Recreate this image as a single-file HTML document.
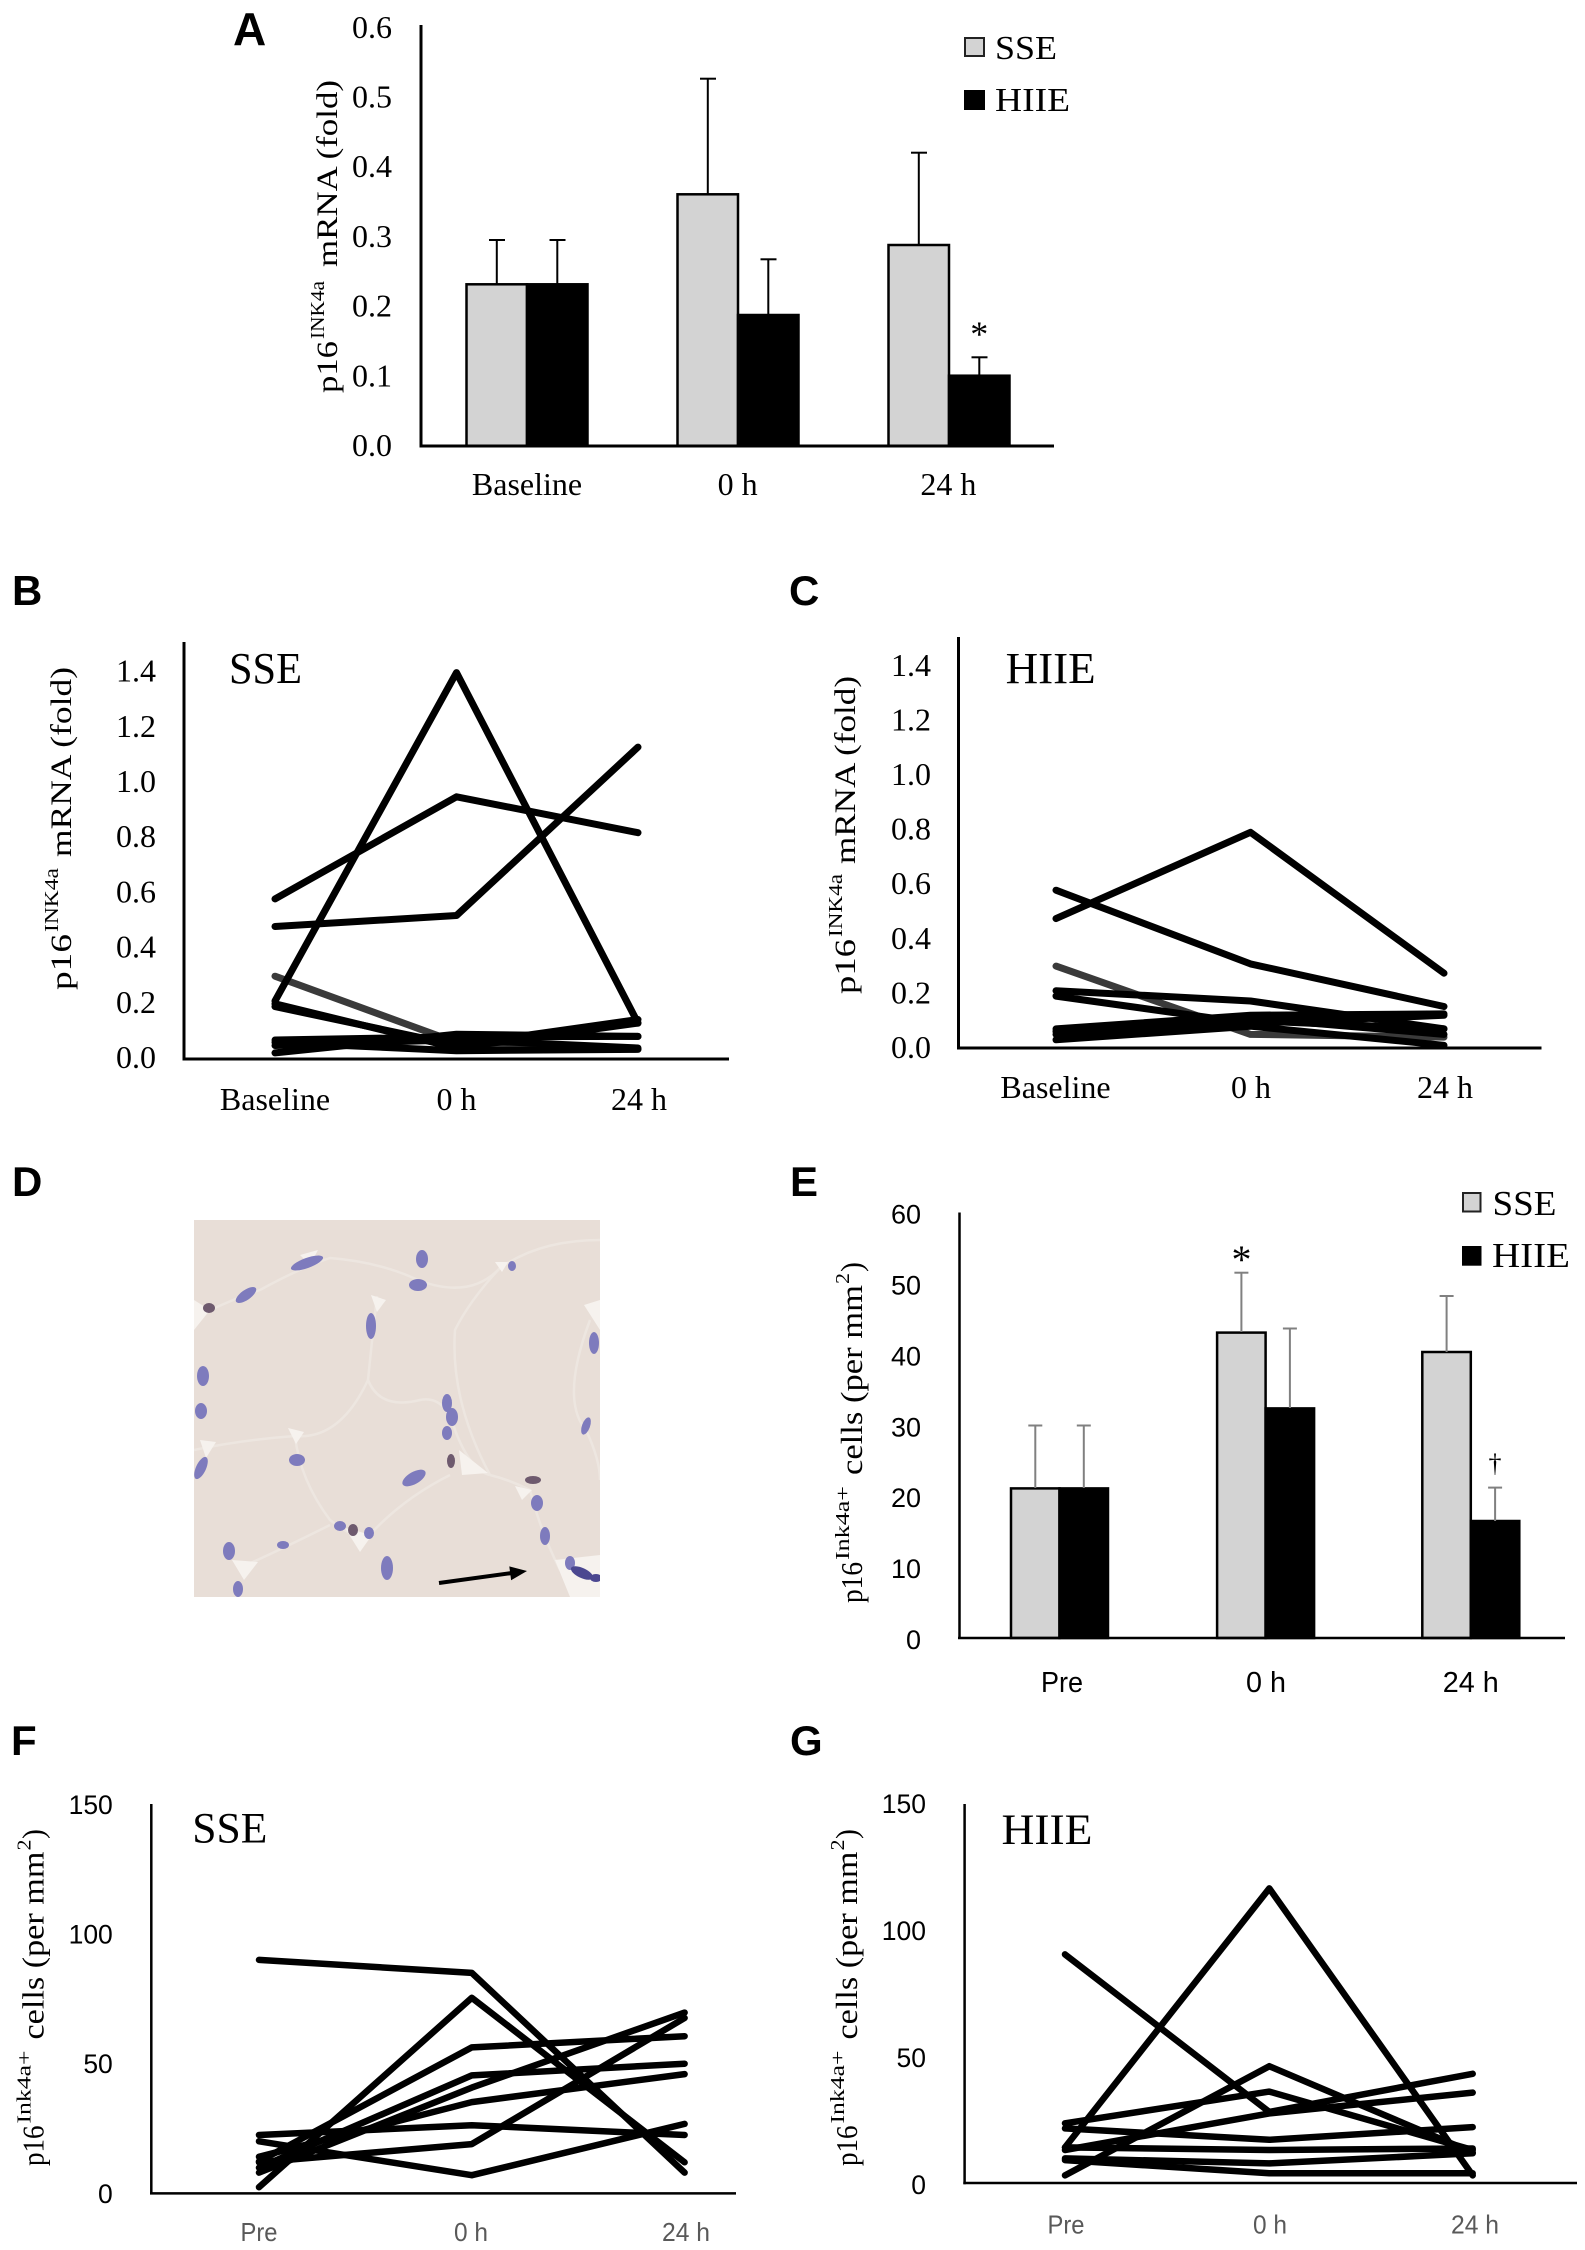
<!DOCTYPE html>
<html><head><meta charset="utf-8"><style>
html,body{margin:0;padding:0;background:#fff;}
svg{display:block;}
.s{font-family:"Liberation Serif","Times New Roman",serif;}
.n{font-family:"Liberation Sans",Arial,sans-serif;}
.lb{font-family:"Liberation Sans",Arial,sans-serif;font-weight:bold;font-size:42px;}
</style></head><body>
<svg width="1585" height="2250" viewBox="0 0 1585 2250" xmlns="http://www.w3.org/2000/svg">
<rect width="1585" height="2250" fill="#fff"/>

<!-- Panel letters -->
<text class="lb" x="233" y="45" style="font-size:46px">A</text>
<text class="lb" x="12" y="605">B</text>
<text class="lb" x="789" y="605">C</text>
<text class="lb" x="12" y="1196">D</text>
<text class="lb" x="790" y="1196">E</text>
<text class="lb" x="11" y="1755">F</text>
<text class="lb" x="790" y="1755">G</text>

<!-- ================= PANEL A ================= -->
<g class="s" font-size="32" text-anchor="end">
<text x="392" y="456">0.0</text>
<text x="392" y="386.3">0.1</text>
<text x="392" y="316.6">0.2</text>
<text x="392" y="246.9">0.3</text>
<text x="392" y="177.2">0.4</text>
<text x="392" y="107.5">0.5</text>
<text x="392" y="37.8">0.6</text>
</g>
<g stroke="#000" stroke-width="2.5">
<rect x="466.5" y="284.3" width="60.5" height="161.7" fill="#d3d3d3"/>
<rect x="527" y="284.3" width="60.5" height="161.7" fill="#000"/>
<rect x="677.5" y="194.3" width="60.5" height="251.7" fill="#d3d3d3"/>
<rect x="738" y="315" width="60.5" height="131" fill="#000"/>
<rect x="888.5" y="245" width="60.5" height="201" fill="#d3d3d3"/>
<rect x="949" y="375.7" width="60.5" height="70.3" fill="#000"/>
</g>
<g stroke="#000" stroke-width="2">
<line x1="496.8" y1="284" x2="496.8" y2="240"/><line x1="489" y1="240" x2="505" y2="240"/>
<line x1="557.3" y1="284" x2="557.3" y2="240"/><line x1="549.5" y1="240" x2="565.5" y2="240"/>
<line x1="707.8" y1="194" x2="707.8" y2="78.7"/><line x1="700" y1="78.7" x2="716" y2="78.7"/>
<line x1="768.3" y1="315" x2="768.3" y2="259.3"/><line x1="760.5" y1="259.3" x2="776.5" y2="259.3"/>
<line x1="918.8" y1="245" x2="918.8" y2="152.7"/><line x1="911" y1="152.7" x2="927" y2="152.7"/>
<line x1="979.3" y1="375.7" x2="979.3" y2="357.3"/><line x1="971.5" y1="357.3" x2="987.5" y2="357.3"/>
</g>
<text class="s" x="979.3" y="346" font-size="36" text-anchor="middle">*</text>
<line x1="421" y1="25" x2="421" y2="447.5" stroke="#000" stroke-width="3"/>
<line x1="419.5" y1="446" x2="1054" y2="446" stroke="#000" stroke-width="3"/>
<rect x="965" y="38" width="19" height="18" fill="#d3d3d3" stroke="#222" stroke-width="2"/>
<text class="s" x="995" y="59" font-size="34" textLength="62" lengthAdjust="spacingAndGlyphs">SSE</text>
<rect x="964" y="90" width="21" height="20" fill="#000"/>
<text class="s" x="995" y="111" font-size="34" textLength="75" lengthAdjust="spacingAndGlyphs">HIIE</text>
<g class="s" font-size="32" text-anchor="middle">
<text x="527" y="495">Baseline</text>
<text x="737.6" y="495">0 h</text>
<text x="948.4" y="495">24 h</text>
</g>
<g class="s" transform="translate(337,393) rotate(-90)">
<text x="0" y="0" font-size="30" textLength="52" lengthAdjust="spacingAndGlyphs">p16</text>
<text x="54" y="-13" font-size="20" textLength="58" lengthAdjust="spacingAndGlyphs">INK4a</text>
<text x="126" y="0" font-size="30" textLength="187" lengthAdjust="spacingAndGlyphs">mRNA (fold)</text>
</g>

<!-- ================= PANEL B ================= -->
<g class="s" font-size="32" text-anchor="end">
<text x="156" y="1068">0.0</text>
<text x="156" y="1012.8">0.2</text>
<text x="156" y="957.6">0.4</text>
<text x="156" y="902.4">0.6</text>
<text x="156" y="847.2">0.8</text>
<text x="156" y="792">1.0</text>
<text x="156" y="736.8">1.2</text>
<text x="156" y="681.6">1.4</text>
</g>
<text class="s" x="229" y="683" font-size="44" textLength="73" lengthAdjust="spacingAndGlyphs">SSE</text>
<g fill="none" stroke-width="7" stroke-linecap="round" stroke-linejoin="round">
<polyline stroke="#3a3a3a" points="275,976.2 456.5,1042.4 638,1049.3"/>
<g stroke="#000">
<polyline points="275,898.9 456.5,796.8 638,832.7"/>
<polyline points="275,926.5 456.5,915.5 638,747.1"/>
<polyline points="275,1001 456.5,672.6 638,1023.1"/>
<polyline points="275,1006.6 456.5,1045.2 638,1019.5"/>
<polyline points="275,1003.8 456.5,1048 638,1023.1"/>
<polyline points="275,1040 456.5,1036.9 638,1036.4"/>
<polyline points="275,1045.5 456.5,1039.7 638,1048"/>
<polyline points="275,1052.9 456.5,1034.2 638,1036.4"/>
<polyline points="275,1042.4 456.5,1050.7 638,1049.3"/>
</g>
</g>
<line x1="184" y1="642" x2="184" y2="1060.5" stroke="#000" stroke-width="3"/>
<line x1="182.5" y1="1059" x2="729" y2="1059" stroke="#000" stroke-width="3"/>
<g class="s" font-size="32" text-anchor="middle">
<text x="275" y="1110">Baseline</text>
<text x="456.5" y="1110">0 h</text>
<text x="639" y="1110">24 h</text>
</g>
<g class="s" transform="translate(71,990) rotate(-90)">
<text x="0" y="0" font-size="30" textLength="56" lengthAdjust="spacingAndGlyphs">p16</text>
<text x="58" y="-13" font-size="20" textLength="64" lengthAdjust="spacingAndGlyphs">INK4a</text>
<text x="133" y="0" font-size="30" textLength="190" lengthAdjust="spacingAndGlyphs">mRNA (fold)</text>
</g>

<!-- ================= PANEL C ================= -->
<g class="s" font-size="32" text-anchor="end">
<text x="931" y="1058">0.0</text>
<text x="931" y="1003.4">0.2</text>
<text x="931" y="948.8">0.4</text>
<text x="931" y="894.2">0.6</text>
<text x="931" y="839.6">0.8</text>
<text x="931" y="785">1.0</text>
<text x="931" y="730.4">1.2</text>
<text x="931" y="675.8">1.4</text>
</g>
<text class="s" x="1005.6" y="683" font-size="44" textLength="90" lengthAdjust="spacingAndGlyphs">HIIE</text>
<g fill="none" stroke-width="7" stroke-linecap="round" stroke-linejoin="round">
<polyline stroke="#3a3a3a" points="1056,966.1 1250.5,1034.4 1444,1037.1"/>
<g stroke="#000">
<polyline points="1056,918.6 1250.5,832.3 1444,973.2"/>
<polyline points="1056,890.2 1250.5,963.9 1444,1006.5"/>
<polyline points="1056,990.7 1250.5,1001 1444,1028.9"/>
<polyline points="1056,996.1 1250.5,1023.4 1444,1015.2"/>
<polyline points="1056,1028.9 1250.5,1015.2 1444,1013.9"/>
<polyline points="1056,1034.4 1250.5,1020.7 1444,1028.9"/>
<polyline points="1056,1039.8 1250.5,1026.2 1444,1045.3"/>
<polyline points="1056,1031.6 1250.5,1018 1444,1034.4"/>
</g>
</g>
<line x1="958.5" y1="637" x2="958.5" y2="1049.5" stroke="#000" stroke-width="3"/>
<line x1="957" y1="1048" x2="1541.5" y2="1048" stroke="#000" stroke-width="3"/>
<g class="s" font-size="32" text-anchor="middle">
<text x="1055.5" y="1098">Baseline</text>
<text x="1251" y="1098">0 h</text>
<text x="1445" y="1098">24 h</text>
</g>
<g class="s" transform="translate(855,994) rotate(-90)">
<text x="0" y="0" font-size="30" textLength="55" lengthAdjust="spacingAndGlyphs">p16</text>
<text x="57" y="-13" font-size="20" textLength="63" lengthAdjust="spacingAndGlyphs">INK4a</text>
<text x="130" y="0" font-size="30" textLength="188" lengthAdjust="spacingAndGlyphs">mRNA (fold)</text>
</g>

<!-- ================= PANEL D (micrograph) ================= -->
<defs><clipPath id="ph"><rect x="194" y="1220" width="406" height="377"/></clipPath></defs>
<g clip-path="url(#ph)">
<rect x="194" y="1220" width="406" height="377" fill="#e8ded7"/>
<g fill="none" stroke="#ede6e0" stroke-width="2.5">
<path d="M194,1318 Q230,1300 260,1290 Q300,1268 330,1258 Q380,1262 418,1280 Q470,1300 500,1268 Q540,1240 600,1240"/>
<path d="M377,1296 Q372,1340 368,1380 Q380,1410 420,1400 Q445,1395 455,1430 Q470,1470 490,1475"/>
<path d="M194,1450 Q240,1440 295,1436 Q340,1440 368,1380"/>
<path d="M295,1436 Q300,1480 330,1520 Q350,1535 365,1540 Q400,1500 450,1475"/>
<path d="M490,1475 Q510,1480 530,1490 Q540,1530 560,1570"/>
<path d="M590,1320 Q560,1400 586,1430 Q600,1460 600,1480"/>
<path d="M244,1566 Q280,1550 330,1525"/>
<path d="M490,1475 Q450,1400 455,1330 Q470,1300 500,1268"/>
</g>
<g fill="#f6f2ee">
<polygon points="371,1295 386,1300 377,1312"/>
<polygon points="495,1262 508,1262 502,1272"/>
<polygon points="459,1450 488,1473 462,1475"/>
<polygon points="345,1528 372,1535 360,1552"/>
<polygon points="232,1560 258,1562 244,1580"/>
<polygon points="584,1305 600,1300 600,1330"/>
<polygon points="200,1440 216,1442 206,1458"/>
<polygon points="288,1428 304,1432 296,1444"/>
<polygon points="515,1486 532,1490 522,1500"/>
<polygon points="555,1560 600,1555 600,1597 570,1597"/>
<polygon points="194,1300 210,1310 194,1330"/>
<polygon points="300,1255 318,1250 310,1265"/>
</g>
<g fill="#7e7bbd">
<ellipse cx="307" cy="1263" rx="17" ry="5" transform="rotate(-20 307 1263)"/>
<ellipse cx="422" cy="1259" rx="6" ry="9"/>
<ellipse cx="418" cy="1285" rx="9" ry="6"/>
<ellipse cx="512" cy="1266" rx="4" ry="5"/>
<ellipse cx="246" cy="1295" rx="12" ry="5" transform="rotate(-35 246 1295)"/>
<ellipse cx="371" cy="1326" rx="5" ry="13"/>
<ellipse cx="594" cy="1343" rx="5" ry="11"/>
<ellipse cx="203" cy="1376" rx="6" ry="10"/>
<ellipse cx="201" cy="1411" rx="6" ry="8"/>
<ellipse cx="447" cy="1403" rx="5" ry="9"/>
<ellipse cx="452" cy="1417" rx="6" ry="9"/>
<ellipse cx="447" cy="1433" rx="5" ry="7"/>
<ellipse cx="586" cy="1426" rx="4" ry="9" transform="rotate(20 586 1426)"/>
<ellipse cx="201" cy="1468" rx="5" ry="12" transform="rotate(25 201 1468)"/>
<ellipse cx="297" cy="1460" rx="8" ry="6"/>
<ellipse cx="414" cy="1478" rx="13" ry="6" transform="rotate(-30 414 1478)"/>
<ellipse cx="537" cy="1503" rx="6" ry="8"/>
<ellipse cx="340" cy="1526" rx="6" ry="5"/>
<ellipse cx="369" cy="1533" rx="5" ry="6"/>
<ellipse cx="545" cy="1536" rx="5" ry="9"/>
<ellipse cx="229" cy="1551" rx="6" ry="9"/>
<ellipse cx="387" cy="1568" rx="6" ry="12"/>
<ellipse cx="570" cy="1563" rx="5" ry="7"/>
<ellipse cx="238" cy="1589" rx="5" ry="8"/>
<ellipse cx="283" cy="1545" rx="6" ry="4"/>
</g>
<g fill="#6e5a6e">
<ellipse cx="209" cy="1308" rx="6" ry="5"/>
<ellipse cx="451" cy="1461" rx="4" ry="7"/>
<ellipse cx="533" cy="1480" rx="8" ry="4"/>
<ellipse cx="353" cy="1530" rx="5" ry="6"/>
</g>
<g fill="#4b4790">
<ellipse cx="582" cy="1573" rx="12" ry="5" transform="rotate(25 582 1573)"/>
<ellipse cx="596" cy="1578" rx="6" ry="4"/>
</g>
</g>
<line x1="439" y1="1583" x2="512" y2="1573" stroke="#000" stroke-width="4"/>
<polygon points="527,1571 511.1,1580.2 509.3,1566.4" fill="#000"/>

<!-- ================= PANEL E ================= -->
<g class="n" font-size="27" text-anchor="end">
<text x="921" y="1649">0</text>
<text x="921" y="1578.1">10</text>
<text x="921" y="1507.2">20</text>
<text x="921" y="1436.3">30</text>
<text x="921" y="1365.4">40</text>
<text x="921" y="1294.5">50</text>
<text x="921" y="1223.6">60</text>
</g>
<g stroke="#000" stroke-width="2.5">
<rect x="1011" y="1488.4" width="48.5" height="149.6" fill="#d3d3d3"/>
<rect x="1059.5" y="1488.4" width="48.5" height="149.6" fill="#000"/>
<rect x="1217.1" y="1332.6" width="48.5" height="305.4" fill="#d3d3d3"/>
<rect x="1265.6" y="1408.4" width="48.5" height="229.6" fill="#000"/>
<rect x="1422.3" y="1352" width="48.5" height="286" fill="#d3d3d3"/>
<rect x="1470.8" y="1521" width="48.5" height="117" fill="#000"/>
</g>
<g stroke="#808080" stroke-width="2">
<line x1="1035.3" y1="1488" x2="1035.3" y2="1425.5"/><line x1="1028.3" y1="1425.5" x2="1042.3" y2="1425.5"/>
<line x1="1083.8" y1="1488" x2="1083.8" y2="1425.5"/><line x1="1076.8" y1="1425.5" x2="1090.8" y2="1425.5"/>
<line x1="1241.4" y1="1332" x2="1241.4" y2="1272.7"/><line x1="1234.4" y1="1272.7" x2="1248.4" y2="1272.7"/>
<line x1="1289.9" y1="1408" x2="1289.9" y2="1328.5"/><line x1="1282.9" y1="1328.5" x2="1296.9" y2="1328.5"/>
<line x1="1446.6" y1="1352" x2="1446.6" y2="1296"/><line x1="1439.6" y1="1296" x2="1453.6" y2="1296"/>
<line x1="1495.1" y1="1521" x2="1495.1" y2="1487.6"/><line x1="1488.1" y1="1487.6" x2="1502.1" y2="1487.6"/>
</g>
<text class="s" x="1241.5" y="1273" font-size="40" text-anchor="middle">*</text>
<text class="s" x="1495" y="1472" font-size="26" text-anchor="middle">†</text>
<line x1="959.5" y1="1212.5" x2="959.5" y2="1639" stroke="#000" stroke-width="2.5"/>
<line x1="958" y1="1638" x2="1565" y2="1638" stroke="#000" stroke-width="2.5"/>
<rect x="1463" y="1193" width="17.5" height="18.5" fill="#d3d3d3" stroke="#222" stroke-width="2"/>
<text class="s" x="1492.5" y="1215" font-size="35" textLength="64" lengthAdjust="spacingAndGlyphs">SSE</text>
<rect x="1462" y="1246" width="19.5" height="19.7" fill="#000"/>
<text class="s" x="1492" y="1267" font-size="35" textLength="78" lengthAdjust="spacingAndGlyphs">HIIE</text>
<g class="n" font-size="29" text-anchor="middle">
<text x="1062" y="1692" textLength="42" lengthAdjust="spacingAndGlyphs">Pre</text>
<text x="1266" y="1692" textLength="40" lengthAdjust="spacingAndGlyphs">0 h</text>
<text x="1470.8" y="1692" textLength="56" lengthAdjust="spacingAndGlyphs">24 h</text>
</g>
<g class="s" transform="translate(862,1603) rotate(-90)">
<text x="0" y="0" font-size="31" textLength="41" lengthAdjust="spacingAndGlyphs">p16</text>
<text x="43" y="-13" font-size="20" textLength="74" lengthAdjust="spacingAndGlyphs">Ink4a+</text>
<text x="128" y="0" font-size="31" textLength="190" lengthAdjust="spacingAndGlyphs">cells (per mm</text>
<text x="319" y="-13" font-size="20" textLength="11" lengthAdjust="spacingAndGlyphs">2</text>
<text x="331" y="0" font-size="31" textLength="10" lengthAdjust="spacingAndGlyphs">)</text>
</g>

<!-- ================= PANEL F ================= -->
<g class="n" font-size="26.5" text-anchor="end">
<text x="112.8" y="2202.9">0</text>
<text x="112.8" y="2073.2">50</text>
<text x="112.8" y="1943.5">100</text>
<text x="112.8" y="1813.8">150</text>
</g>
<text class="s" x="192.3" y="1842.5" font-size="43" textLength="75" lengthAdjust="spacingAndGlyphs">SSE</text>
<g fill="none" stroke="#000" stroke-width="6.5" stroke-linecap="round" stroke-linejoin="round">
<polyline points="259,1959.9 471.8,1972.9 684.6,2172.6"/>
<polyline points="259,2187.2 471.8,1997.8 684.6,2162.3"/>
<polyline points="259,2161.5 471.8,2047.4 684.6,2036.2"/>
<polyline points="259,2167.7 471.8,2075.4 684.6,2063.7"/>
<polyline points="259,2172.6 471.8,2087.6 684.6,2012.6"/>
<polyline points="259,2156.8 471.8,2102.1 684.6,2074.1"/>
<polyline points="259,2135 471.8,2125.2 684.6,2135"/>
<polyline points="259,2141.3 471.8,2175.2 684.6,2123.9"/>
<polyline points="259,2162.3 471.8,2144.1 684.6,2018"/>
</g>
<line x1="151.3" y1="1804" x2="151.3" y2="2194.5" stroke="#000" stroke-width="2.5"/>
<line x1="150" y1="2193.4" x2="736" y2="2193.4" stroke="#000" stroke-width="2.5"/>
<g class="n" font-size="26" text-anchor="middle" fill="#595959">
<text x="259" y="2241" textLength="37" lengthAdjust="spacingAndGlyphs">Pre</text>
<text x="471" y="2241" textLength="34" lengthAdjust="spacingAndGlyphs">0 h</text>
<text x="686" y="2241" textLength="48" lengthAdjust="spacingAndGlyphs">24 h</text>
</g>
<g class="s" transform="translate(43.6,2166) rotate(-90)">
<text x="0" y="0" font-size="31" textLength="40.5" lengthAdjust="spacingAndGlyphs">p16</text>
<text x="42.5" y="-13" font-size="20" textLength="73" lengthAdjust="spacingAndGlyphs">Ink4a+</text>
<text x="126.5" y="0" font-size="31" textLength="188" lengthAdjust="spacingAndGlyphs">cells (per mm</text>
<text x="315.5" y="-13" font-size="20" textLength="11" lengthAdjust="spacingAndGlyphs">2</text>
<text x="327" y="0" font-size="31" textLength="10" lengthAdjust="spacingAndGlyphs">)</text>
</g>

<!-- ================= PANEL G ================= -->
<g class="n" font-size="26.5" text-anchor="end">
<text x="926" y="2194">0</text>
<text x="926" y="2067">50</text>
<text x="926" y="1940">100</text>
<text x="926" y="1813">150</text>
</g>
<text class="s" x="1001.5" y="1844" font-size="43" textLength="91" lengthAdjust="spacingAndGlyphs">HIIE</text>
<g fill="none" stroke="#000" stroke-width="6.5" stroke-linecap="round" stroke-linejoin="round">
<polyline points="1065,1954.4 1269.3,2111.9 1472.7,2073.8"/>
<polyline points="1065,2147.4 1269.3,1888.4 1472.7,2175.4"/>
<polyline points="1065,2175.4 1269.3,2066.2 1472.7,2152.5"/>
<polyline points="1065,2123.3 1269.3,2091.6 1472.7,2150"/>
<polyline points="1065,2150 1269.3,2113.4 1472.7,2092.6"/>
<polyline points="1065,2128.4 1269.3,2139.8 1472.7,2127.1"/>
<polyline points="1065,2147.4 1269.3,2150 1472.7,2148.5"/>
<polyline points="1065,2158.4 1269.3,2163.4 1472.7,2153.3"/>
<polyline points="1065,2160.1 1269.3,2173.3 1472.7,2173.3"/>
</g>
<line x1="964.6" y1="1804" x2="964.6" y2="2184.2" stroke="#000" stroke-width="2.5"/>
<line x1="963.3" y1="2183" x2="1577" y2="2183" stroke="#000" stroke-width="2.5"/>
<g class="n" font-size="26" text-anchor="middle" fill="#595959">
<text x="1066" y="2233.5" textLength="37" lengthAdjust="spacingAndGlyphs">Pre</text>
<text x="1270" y="2233.5" textLength="34" lengthAdjust="spacingAndGlyphs">0 h</text>
<text x="1475" y="2233.5" textLength="48" lengthAdjust="spacingAndGlyphs">24 h</text>
</g>
<g class="s" transform="translate(857,2166) rotate(-90)">
<text x="0" y="0" font-size="31" textLength="40.5" lengthAdjust="spacingAndGlyphs">p16</text>
<text x="42.5" y="-13" font-size="20" textLength="73" lengthAdjust="spacingAndGlyphs">Ink4a+</text>
<text x="126.5" y="0" font-size="31" textLength="188" lengthAdjust="spacingAndGlyphs">cells (per mm</text>
<text x="315.5" y="-13" font-size="20" textLength="11" lengthAdjust="spacingAndGlyphs">2</text>
<text x="327" y="0" font-size="31" textLength="10" lengthAdjust="spacingAndGlyphs">)</text>
</g>
</svg>
</body></html>
